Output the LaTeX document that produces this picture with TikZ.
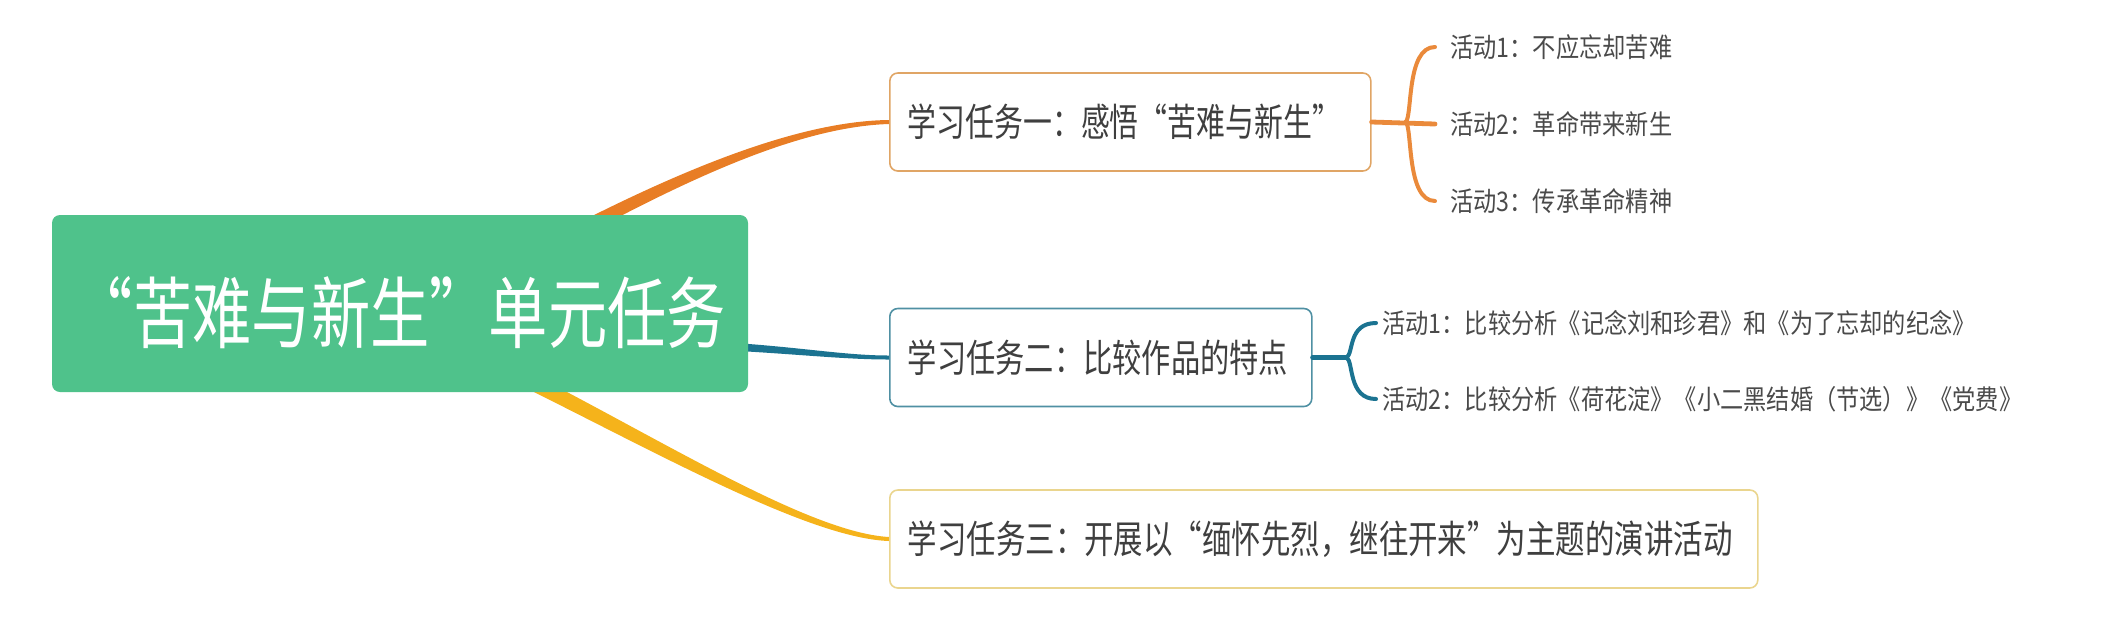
\documentclass[tikz,border=0pt]{standalone}
\usepackage{fontspec}
\newfontfamily\cjk{Noto Sans CJK SC}
\usetikzlibrary{calc}
\pgfdeclarelayer{background}
\pgfsetlayers{background,main}
\definecolor{rootgreen}{HTML}{4FC28B}
\definecolor{brorange}{HTML}{E87D25}
\definecolor{bdorange}{HTML}{E0A565}
\definecolor{brteal}{HTML}{1B7391}
\definecolor{bdteal}{HTML}{4F90A3}
\definecolor{bryellow}{HTML}{F5B31B}
\definecolor{bdyellow}{HTML}{EAD58E}
\definecolor{textgray}{HTML}{3F3F3F}
\definecolor{actgray}{HTML}{4A4A4A}
\newcommand{\hsq}[2]{\scalebox{#1}[1]{#2}}
\begin{document}
\begin{tikzpicture}[x=0.5pt,y=-0.5pt,
  rootbox/.style={rounded corners=4pt, fill=rootgreen, minimum width=348pt,
    minimum height=88.5pt, inner sep=0pt, text=white,
    font=\cjk\fontsize{39}{39}\selectfont},
  taskbox/.style={rounded corners=4pt, fill=white, line width=0.8pt,
    minimum height=49pt, inner xsep=9pt, inner ysep=0pt, align=left,
    text=textgray, anchor=west, font=\cjk\fontsize{19.25}{19.25}\selectfont},
  actbox/.style={inner sep=0pt, anchor=west, text=actgray,
    font=\cjk\fontsize{13.5}{13.5}\selectfont},
  brace1/.style={draw=brorange!90!white, line width=2pt, line cap=round},
  brace2/.style={draw=brteal, line width=2pt, line cap=round}
]
\useasboundingbox (0,0) rectangle (2123,618);

% root
\node[rootbox] (root) at (400,303.5)
  {\hsq{0.76}{\raisebox{-4.5pt}[\height][\depth]{“苦难与新生”单元任务}}};

% task boxes
\node[taskbox, draw=bdorange, text width=222.5pt] (t1) at (889,122)
  {\hsq{0.75}{学习任务一：感悟“苦难与新生”}};
\node[taskbox, draw=bdteal, text width=193pt] (t2) at (889,357.5)
  {\hsq{0.76}{学习任务二：比较作品的特点}};
\node[taskbox, draw=bdyellow, text width=416pt] (t3) at (889,539)
  {\hsq{0.765}{学习任务三：开展以“缅怀先烈，继往开来”为主题的演讲活动}};

% branches (tapered), behind the boxes
\begin{pgfonlayer}{background}
\fill[brorange] ($(root.center)+(116.4,-48.1)$) .. controls ($(t1.west)+(-232,57.5)$) and ($(t1.west)+(-99,-1)$) .. ($(t1.west)+(0,-2)$)
  -- ($(t1.west)+(0,2)$) .. controls ($(t1.west)+(-99,5)$) and ($(t1.west)+(-226,68.5)$) .. ($(root.center)+(123.6,-34.9)$) -- cycle;
\fill[brteal] ($(root.center)+(300,37.5)$) .. controls ($(t2.west)+(-99,-12.5)$) and ($(t2.west)+(-49,-2)$) .. ($(t2.west)+(0,-2)$)
  -- ($(t2.west)+(0,2)$) .. controls ($(t2.west)+(-49,2)$) and ($(t2.west)+(-99,-4.5)$) .. ($(root.center)+(300,45.5)$) -- cycle;
\fill[bryellow] ($(root.center)+(73.4,41.3)$) .. controls ($(t3.west)+(-260.6,-121.2)$) and ($(t3.west)+(-89,-7)$) .. ($(t3.west)+(0,-2)$)
  -- ($(t3.west)+(0,2)$) .. controls ($(t3.west)+(-89,-1)$) and ($(t3.west)+(-267.4,-106.8)$) .. ($(root.center)+(66.6,55.7)$) -- cycle;
\end{pgfonlayer}

% activities
\node[actbox] (a11) at (1450,47) {\hsq{0.86}{活动1：不应忘却苦难}};
\node[actbox] (a12) at (1450,124) {\hsq{0.86}{活动2：革命带来新生}};
\node[actbox] (a13) at (1450,201) {\hsq{0.86}{活动3：传承革命精神}};
\node[actbox] (a21) at (1382,323) {\hsq{0.86}{活动1：比较分析《记念刘和珍君》和《为了忘却的纪念》}};
\node[actbox] (a22) at (1382,399) {\hsq{0.86}{活动2：比较分析《荷花淀》《小二黑结婚（节选）》《党费》}};

% brace 1
\coordinate (j1) at ($(t1.east)+(34,0)$);
\draw[brace1, line width=2.4pt] (t1.east) -- ($(a12.west)+(-15,0)$);
\draw[brace1] (j1) .. controls ($(j1)+(7,-5)$) and ($(a11.west)+(-44,0)$) .. ($(a11.west)+(-15,0)$);
\draw[brace1] (j1) .. controls ($(j1)+(7,5)$) and ($(a13.west)+(-44,0)$) .. ($(a13.west)+(-15,0)$);

% brace 2
\coordinate (j2) at ($(t2.east)+(34,0)$);
\draw[brace2, line width=2.4pt] (t2.east) -- (j2);
\draw[brace2] (j2) .. controls ($(j2)+(7,-4)$) and ($(a21.west)+(-34,0)$) .. ($(a21.west)+(-6,0)$);
\draw[brace2] (j2) .. controls ($(j2)+(7,4)$) and ($(a22.west)+(-34,0)$) .. ($(a22.west)+(-6,0)$);
\end{tikzpicture}
\end{document}
